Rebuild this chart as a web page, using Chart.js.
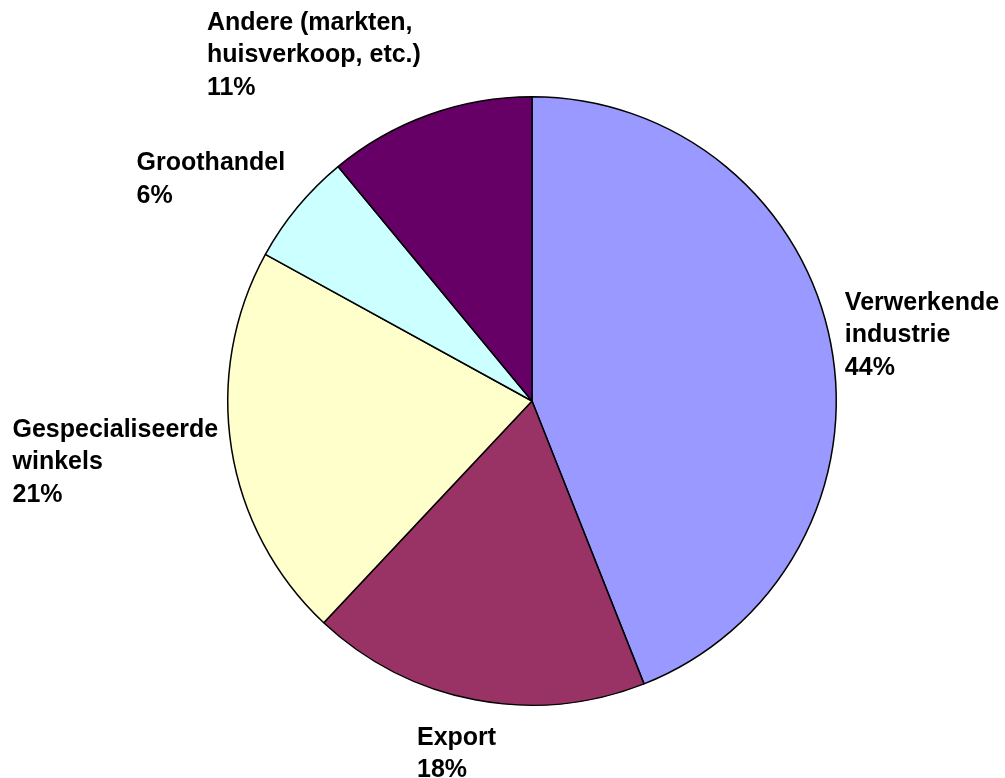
<!DOCTYPE html>
<html>
<head>
<meta charset="utf-8">
<title>Afzet</title>
<script src="https://cdn.jsdelivr.net/npm/chart.js@4/dist/chart.umd.min.js"></script>
<style>
  html, body { margin: 0; padding: 0; background: #fff; }
  #wrap { position: relative; width: 1005px; height: 778px; }
</style>
</head>
<body>
<div id="wrap"><canvas id="myChart"></canvas></div>
<script>
// Categories (label lines as printed in the chart) and their shares in %
const categories = [
  "Verwerkende industrie",
  "Export",
  "Gespecialiseerde winkels",
  "Groothandel",
  "Andere (markten, huisverkoop, etc.)",
];
const categoryLines = [
  ["Verwerkende", "industrie"],
  ["Export"],
  ["Gespecialiseerde", "winkels"],
  ["Groothandel"],
  ["Andere (markten,", "huisverkoop, etc.)"],
];
const shares = [44, 18, 21, 6, 11];

const sliceColors = ["#9999FF", "#993366", "#FFFFCC", "#CCFFFF", "#660066"];

// Label placement: offset of first baseline (left) from the slice's outer mid point
const labelOffsets = [
  [14, -34],
  [-58, 45],
  [-219, -12],
  [-161, -37],
  [-222, -85],
];

// Draw the outside labels (name + percentage) for each slice
const outsideLabels = {
  id: "outsideLabels",
  afterDatasetsDraw(chart) {
    const ctx = chart.ctx;
    const meta = chart.getDatasetMeta(0);
    ctx.save();
    ctx.font = 'bold 25px "Liberation Sans", Arial, sans-serif';
    ctx.fillStyle = "#000";
    ctx.textAlign = "left";
    ctx.textBaseline = "alphabetic";
    meta.data.forEach((arc, i) => {
      const p = arc.getProps(["x", "y", "startAngle", "endAngle", "outerRadius"], true);
      const mid = (p.startAngle + p.endAngle) / 2;
      const px = p.x + Math.cos(mid) * p.outerRadius;
      const py = p.y + Math.sin(mid) * p.outerRadius;
      const lines = categoryLines[i].concat([shares[i] + "%"]);
      const x = px + labelOffsets[i][0];
      const y = py + labelOffsets[i][1];
      lines.forEach((line, j) => {
        ctx.fillText(line, x, y + j * 32.5);
      });
    });
    ctx.restore();
  },
};

const ctx = document.getElementById("myChart").getContext("2d");
new Chart(ctx, {
  type: "pie",
  data: {
    labels: categories,
    datasets: [
      {
        data: shares,
        backgroundColor: sliceColors,
        borderColor: "#000",
        borderWidth: 1.5,
      },
    ],
  },
  options: {
    responsive: true,
    maintainAspectRatio: false,
    animation: false,
    events: [],
    layout: {
      padding: { left: 227, top: 96, right: 168, bottom: 72 },
    },
    plugins: {
      legend: { display: false },
      tooltip: { enabled: false },
    },
  },
  plugins: [outsideLabels],
});
</script>
</body>
</html>
